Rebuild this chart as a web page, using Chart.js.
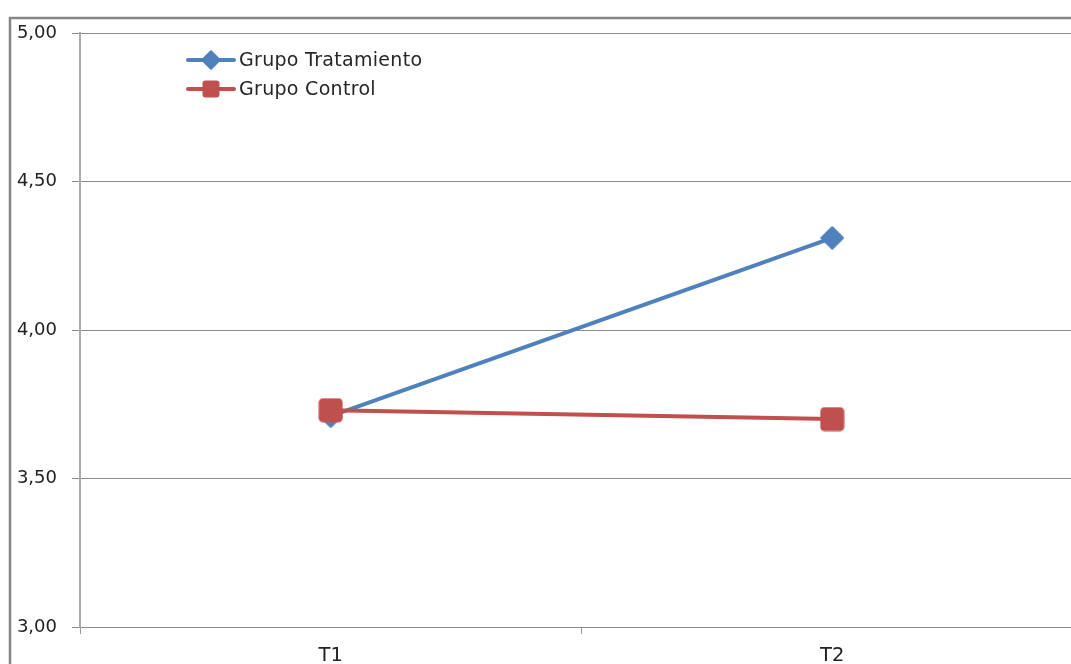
<!DOCTYPE html>
<html>
<head>
<meta charset="utf-8">
<script src="https://cdn.jsdelivr.net/npm/chart.js@4/dist/chart.umd.min.js"></script>
<style>
  html, body { margin: 0; padding: 0; background: #fff; overflow: hidden; width: 1071px; height: 664px; }
  #wrap { position: absolute; left: 0; top: 0; width: 1100px; height: 664px; }
</style>
</head>
<body>
<div id="wrap"><canvas id="c" width="1100" height="664" style="width:1100px;height:664px"></canvas></div>
<script>
const categories = ['T1', 'T2'];
const seriesNames = ['Grupo Tratamiento', 'Grupo Control'];
const tratamientoValues = [3.71, 4.31];
const controlValues = [3.73, 3.70];
const yTickLabels = ['3,00', '3,50', '4,00', '4,50', '5,00'];
const yTickValues = [3.0, 3.5, 4.0, 4.5, 5.0];

const BLUE = '#4F81BD';
const RED = '#C0504D';
const FONT = "'DejaVu Sans', sans-serif";

function makeDiamond(size, color) {
  const c = document.createElement('canvas');
  c.width = size; c.height = size;
  const g = c.getContext('2d');
  const h = size / 2, m = 1.2;
  g.beginPath();
  g.moveTo(h, m); g.lineTo(size - m, h); g.lineTo(h, size - m); g.lineTo(m, h); g.closePath();
  g.fillStyle = color; g.strokeStyle = color; g.lineJoin = 'round'; g.lineWidth = 2;
  g.fill(); g.stroke();
  return c;
}
function makeSquare(size, color) {
  const c = document.createElement('canvas');
  c.width = size; c.height = size;
  const g = c.getContext('2d');
  g.beginPath();
  g.roundRect(0.5, 0.5, size - 1, size - 1, Math.max(2, size * 0.17));
  g.fillStyle = color; g.fill();
  return c;
}

const blueMarker = makeDiamond(24, BLUE);
const redMarker = makeSquare(25, RED);
const blueLegendMarker = makeDiamond(20, BLUE);
const redLegendMarker = makeSquare(18, RED);

const framePlugin = {
  id: 'frame',
  beforeDraw(chart) {
    const ctx = chart.ctx;
    ctx.save();
    ctx.strokeStyle = '#868686';
    ctx.lineWidth = 2.5;
    ctx.beginPath();
    ctx.moveTo(10, 664);
    ctx.lineTo(10, 18);
    ctx.lineTo(1100, 18);
    ctx.stroke();
    ctx.restore();
  }
};

const legendPlugin = {
  id: 'customLegend',
  afterDatasetsDraw(chart) {
    const ctx = chart.ctx;
    const items = [
      { label: chart.data.datasets[0].label, color: BLUE, marker: blueLegendMarker, y: 60 },
      { label: chart.data.datasets[1].label, color: RED, marker: redLegendMarker, y: 89 }
    ];
    ctx.save();
    items.forEach(it => {
      ctx.strokeStyle = it.color;
      ctx.lineWidth = 4;
      ctx.lineCap = 'round';
      ctx.beginPath();
      ctx.moveTo(188, it.y);
      ctx.lineTo(234, it.y);
      ctx.stroke();
      ctx.drawImage(it.marker, 211 - it.marker.width / 2, it.y - it.marker.height / 2);
      ctx.fillStyle = '#262626';
      ctx.font = '19px ' + FONT;
      if ('letterSpacing' in ctx) ctx.letterSpacing = '0.3px';
      ctx.textBaseline = 'middle';
      ctx.textAlign = 'left';
      ctx.fillText(it.label, 239, it.y + 1);
    });
    ctx.restore();
  }
};

new Chart(document.getElementById('c'), {
  type: 'line',
  data: {
    labels: categories,
    datasets: [
      {
        label: seriesNames[0],
        data: tratamientoValues,
        borderColor: BLUE,
        backgroundColor: BLUE,
        borderWidth: 4,
        pointStyle: blueMarker,
        tension: 0,
        order: 1
      },
      {
        label: seriesNames[1],
        data: controlValues,
        borderColor: RED,
        backgroundColor: RED,
        borderWidth: 4,
        pointStyle: redMarker,
        tension: 0,
        order: 0
      }
    ]
  },
  options: {
    responsive: false,
    animation: false,
    layout: { padding: { top: 33, right: 17, bottom: 0, left: 0 } },
    plugins: {
      legend: { display: false },
      tooltip: { enabled: false }
    },
    scales: {
      x: {
        offset: true,
        grid: { display: true, drawOnChartArea: false, drawTicks: true, tickLength: 7, color: '#9a9a9a', offset: true },
        border: { display: true, color: '#8c8c8c', width: 1 },
        ticks: { color: '#222', font: { family: FONT, size: 19.5 }, padding: 10, maxRotation: 0 },
        afterFit(s) { s.height = 37; }
      },
      y: {
        min: 3,
        max: 5,
        afterBuildTicks(s) { s.ticks = yTickValues.map(v => ({ value: v })); },
        grid: { color: '#8c8c8c', lineWidth: 1, tickLength: 8 },
        border: { display: true, color: '#ababab', width: 2 },
        ticks: {
          color: '#222',
          font: { family: FONT, size: 18 },
          padding: 15,
          callback(v) { const i = yTickValues.indexOf(v); return i >= 0 ? yTickLabels[i] : ''; }
        },
        afterFit(s) { s.width = 80; }
      }
    }
  },
  plugins: [framePlugin, legendPlugin]
});
</script>
</body>
</html>
